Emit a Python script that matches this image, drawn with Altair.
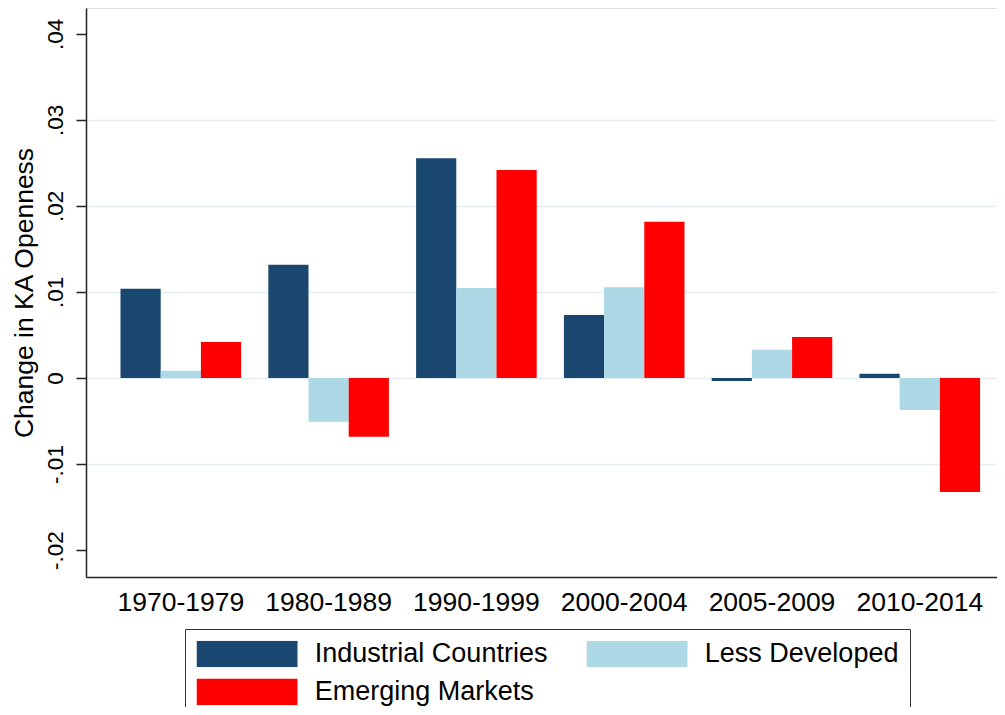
import altair as alt
import pandas as pd

periods = ["1970-1979", "1980-1989", "1990-1999", "2000-2004", "2005-2009", "2010-2014"]
series = ["Industrial Countries", "Less Developed", "Emerging Markets"]
industrial = [0.01038, 0.01317, 0.02555, 0.00733, -0.00035, 0.0005]
less_developed = [0.00085, -0.00508, 0.01047, 0.01055, 0.00329, -0.00372]
emerging = [0.00419, -0.00683, 0.02419, 0.01817, 0.00477, -0.01326]
colors = ["#1a476f", "#add8e6", "#ff0000"]
y_ticks = [-0.02, -0.01, 0, 0.01, 0.02, 0.03, 0.04]
y_domain = [-0.02314, 0.04302]

rows = []
for name, vals in zip(series, [industrial, less_developed, emerging]):
    for p, v in zip(periods, vals):
        rows.append({"period": p, "series": name, "value": v})
df = pd.DataFrame(rows)

FONT = "Liberation Sans"
AX = "#222222"

label_expr = ("datum.value == 0 ? '0' : (datum.value < 0 ? '-' : '') + "
              "replace(format(abs(datum.value), '.2f'), '0.', '.')")

chart = alt.Chart(df).mark_bar().encode(
    x=alt.X("period:N", sort=periods,
            scale=alt.Scale(paddingInner=0.184, paddingOuter=0.174, align=0.671),
            axis=alt.Axis(title=None, labelAngle=0, ticks=False, labelFontSize=26.5,
                          labelPadding=12, domainColor=AX, domainWidth=1.5, grid=False,
                          labelColor="black", labelFont=FONT)),
    xOffset=alt.XOffset("series:N", sort=series,
                        scale=alt.Scale(paddingInner=0, paddingOuter=0)),
    y=alt.Y("value:Q", scale=alt.Scale(domain=y_domain, nice=False, zero=False),
            axis=alt.Axis(title="Change in KA Openness", values=y_ticks, labelExpr=label_expr,
                          labelAngle=270, labelAlign="center", labelBaseline="bottom",
                          labelFontSize=22.5, labelPadding=9, labelColor="black", labelFont=FONT,
                          tickSize=10, tickColor=AX, tickWidth=1.5,
                          domainColor=AX, domainWidth=1.5,
                          gridColor="#e4edf1", gridWidth=1.5,
                          gridOpacity={"condition": {"test": "datum.value > 0.035 || datum.value < -0.015", "value": 0}, "value": 1},
                          titleFontSize=26.5, titleFontWeight="normal", titlePadding=6,
                          titleColor="black", titleFont=FONT)),
    color=alt.Color("series:N", sort=series,
                    scale=alt.Scale(domain=series, range=colors),
                    legend=alt.Legend(title=None, orient="none", legendX=99, legendY=621,
                                      columns=2, direction="horizontal",
                                      symbolType="M-1,-0.264H1V0.264H-1Z",
                                      symbolSize=10201, clipHeight=26.7, symbolStrokeWidth=0,
                                      symbolOpacity=1,
                                      labelFontSize=27, labelFont=FONT, labelColor="black",
                                      labelOffset=17.3, labelLimit=400,
                                      columnPadding=39, rowPadding=10, padding=11.5,
                                      strokeColor="#333333", fillColor="white")),
).properties(
    width=911, height=569,
    autosize=alt.AutoSizeParams(type="none"),
    padding={"left": 78, "top": 0, "right": 0, "bottom": 130},
).configure_view(stroke=None).configure(font=FONT)

chart.save("out.html", embed_options={"renderer": "svg", "actions": False})
